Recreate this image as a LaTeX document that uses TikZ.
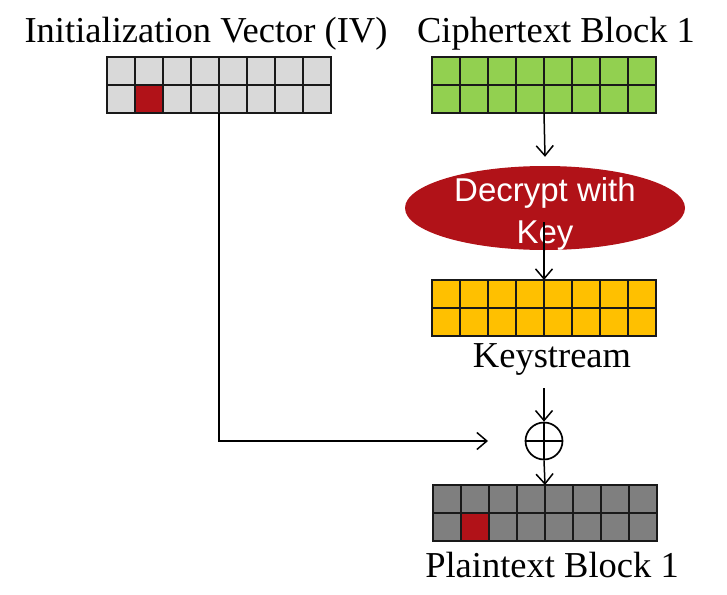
\documentclass[tikz,border=0pt]{standalone}
\usepackage{fontspec}
\setmainfont{Liberation Serif}
\newfontfamily\keyfont{Liberation Sans}
\usepackage{xcolor}
\usepackage{tikz}
\usetikzlibrary{arrows.meta}
\usetikzlibrary{shapes.geometric}
\colorlet{ivgray}{black!15}
\definecolor{cipgreen}{HTML}{92D050}
\definecolor{keyyellow}{HTML}{FFC000}
\definecolor{ptgray}{HTML}{7F7F7F}
\definecolor{keyred}{HTML}{B11218}
\newcommand\lblfont{\fontsize{36.5}{43}\selectfont}
\newcommand\decfont{\keyfont\fontsize{33}{42}\selectfont}
\tikzstyle{flowhead}=[>/.tip={Straight Barb[length=10pt,width=17pt]}]
\tikzstyle{flow}=[line width=1.5pt,flowhead,->]
\tikzstyle{blk}=[rectangle,minimum width=224pt,minimum height=56pt,inner sep=0pt,outer sep=0pt]
\tikzstyle{cellline}=[line width=1.4pt,black!90]
\tikzstyle{lbl}=[font=\lblfont,inner sep=0pt,anchor=base]
\newcommand\cells[1]{%
  \foreach \col in {1,...,7}\draw[cellline] (#1.north west) ++(28*\col,0) -- ++(0,56);
  \draw[cellline] (#1.west) -- (#1.east);
  \draw[cellline] (#1.north west) rectangle (#1.south east);
}
\newcommand\redcell[1]{\fill[keyred] (#1.north west) ++(28,28) rectangle ++(28,28);}

\begin{document}
\begin{tikzpicture}[x=1pt,y=-1pt]
	\useasboundingbox (0,0) rectangle (727,594);
	\node[lbl] (IVL) at (206,42) {Initialization Vector (IV)};
	\node[lbl] (CL)  at (556,42) {Ciphertext Block 1};
	\node[blk,fill=ivgray]    (IV) at (219,85)  {};
	\node[blk,fill=cipgreen]  (C)  at (544,85)  {};
	\node[blk,fill=keyyellow] (K)  at (544,308) {};
	\node[blk,fill=ptgray]    (P)  at (545,513) {};
	\redcell{IV}
	\redcell{P}
	\cells{IV}
	\cells{C}
	\cells{K}
	\cells{P}
	\node[ellipse,fill=keyred,minimum width=280pt,minimum height=84pt,inner sep=0pt] (E) at (545,208) {};
	\node[font=\decfont,text=white,align=center,inner sep=0pt] (ET) at (545,214) {Decrypt with\\Key};
	\node[lbl] (KL) at (552,367) {Keystream};
	\node[lbl] (PL) at (552,577) {Plaintext Block 1};
	\node[circle,draw,line width=1.7pt,minimum size=37pt,inner sep=0pt] (X) at (544,441) {};
	\draw[line width=1.7pt] (X.north) -- (X.south) (X.west) -- (X.east);
	\coordinate (ET2) at (544,222);
	\coordinate (KL2) at (544,388);
	\coordinate (IVT) at (488,441);
	\draw[flow] (C.south) -- ([yshift=9pt]E.north);
	\draw[flow] (ET2) -- (K.north);
	\draw[flow] (KL2) -- (X.north);
	\draw[flow] (X.south) -- (P.north);
	\draw[flow] (IV.south) |- (IVT);
\end{tikzpicture}
\end{document}
